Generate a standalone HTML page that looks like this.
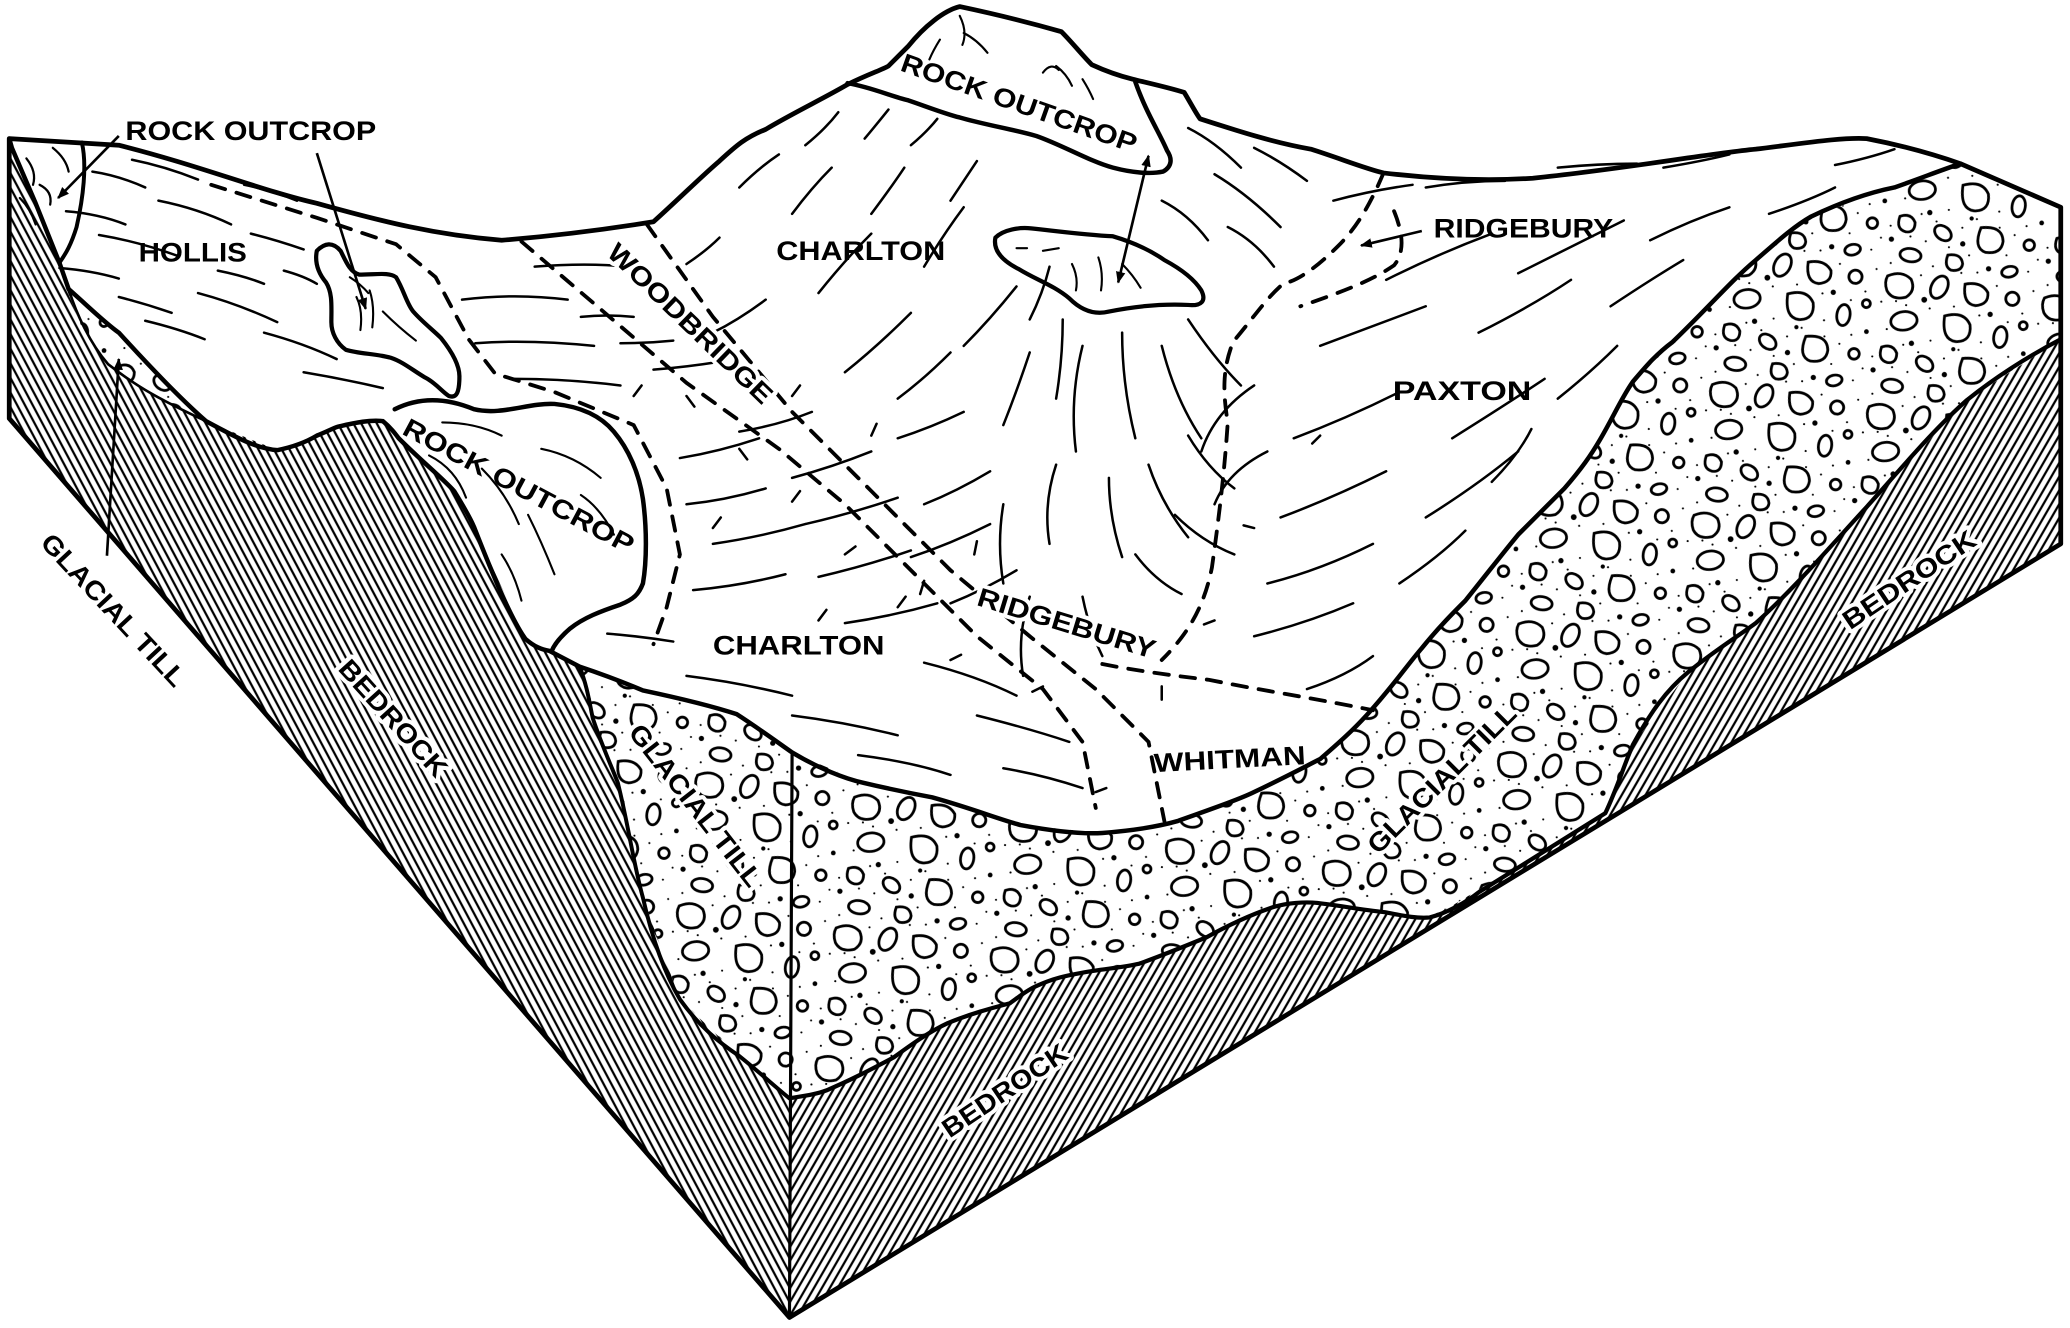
<!DOCTYPE html>
<html><head><meta charset="utf-8"><style>
html,body{margin:0;padding:0;background:#fff;}
svg{display:block;}
text{font-family:"Liberation Sans",sans-serif;font-weight:bold;fill:#000;}
.lb{paint-order:stroke;stroke:#fff;stroke-width:6px;stroke-linejoin:round;}
</style></head><body>
<svg width="2070" height="1328" viewBox="0 0 1568 1006" preserveAspectRatio="none" xmlns="http://www.w3.org/2000/svg">
<defs>
<pattern id="hL" patternUnits="userSpaceOnUse" width="5.2" height="10" patternTransform="rotate(-28)">
<line x1="2.6" y1="-1" x2="2.6" y2="11" stroke="#000" stroke-width="1.7"/></pattern>
<pattern id="hR" patternUnits="userSpaceOnUse" width="5.2" height="10" patternTransform="rotate(30)">
<line x1="2.6" y1="-1" x2="2.6" y2="11" stroke="#000" stroke-width="1.7"/></pattern>
<pattern id="till" patternUnits="userSpaceOnUse" width="120" height="100" patternTransform="rotate(8)">
<rect width="120" height="100" fill="#fff"/>
<g fill="#000">
<circle cx="3" cy="28" r=".8"/><circle cx="14" cy="26" r=".8"/><circle cx="30" cy="4" r=".8"/><circle cx="40" cy="28" r=".8"/><circle cx="58" cy="24" r=".8"/><circle cx="88" cy="4" r=".8"/><circle cx="110" cy="22" r=".8"/><circle cx="116" cy="4" r=".8"/><circle cx="78" cy="28" r=".8"/><circle cx="10" cy="48" r=".8"/><circle cx="44" cy="52" r=".8"/><circle cx="82" cy="48" r=".8"/><circle cx="104" cy="56" r=".8"/><circle cx="24" cy="58" r=".8"/><circle cx="36" cy="62" r=".8"/><circle cx="56" cy="64" r=".8"/><circle cx="96" cy="64" r=".8"/><circle cx="116" cy="80" r=".8"/><circle cx="92" cy="80" r=".8"/><circle cx="64" cy="84" r=".8"/><circle cx="30" cy="78" r=".8"/><circle cx="6" cy="98" r=".8"/><circle cx="38" cy="96" r=".8"/><circle cx="72" cy="96" r=".8"/><circle cx="110" cy="90" r=".8"/><circle cx="50" cy="4" r=".8"/><circle cx="22" cy="28" r=".8"/><circle cx="66" cy="56" r=".8"/><circle cx="2" cy="70" r=".8"/><circle cx="84" cy="60" r=".8"/><circle cx="48" cy="80" r=".8"/><circle cx="100" cy="30" r=".8"/><circle cx="18" cy="76" r=".8"/><circle cx="60" cy="98" r=".8"/>
<circle cx="35" cy="22" r="2.2"/><circle cx="86" cy="26" r="2"/><circle cx="30" cy="56" r="2"/><circle cx="115" cy="52" r="1.8"/><circle cx="58" cy="76" r="2"/><circle cx="80" cy="92" r="2"/><circle cx="4" cy="80" r="2"/><circle cx="62" cy="56" r="1.6"/>
</g>
<g fill="#fff" stroke="#000" stroke-width="2.1">
<path d="M5,8 q10,-6 18,0 q5,8 -2,14 q-10,4 -15,-3 q-3,-6 -1,-11z"/>
<ellipse cx="45" cy="11" rx="6" ry="9" transform="rotate(20 45 11)"/>
<path d="M64,6 q12,-4 18,4 q2,9 -8,11 q-10,0 -10,-15z"/>
<circle cx="101" cy="12" r="5"/>
<ellipse cx="22" cy="40" rx="10" ry="7" transform="rotate(-15 22 40)"/>
<path d="M52,32 q14,-6 20,4 q3,12 -8,14 q-12,1 -12,-18z"/>
<ellipse cx="96" cy="42" rx="5" ry="8"/>
<circle cx="112" cy="31" r="3"/>
<path d="M8,62 q8,-4 12,3 q1,8 -6,8 q-8,-1 -6,-11z"/>
<ellipse cx="42" cy="70" rx="7" ry="5" transform="rotate(30 42 70)"/>
<path d="M70,62 q16,-4 18,8 q0,10 -12,10 q-10,-2 -6,-18z"/>
<circle cx="108" cy="70" r="4"/>
<ellipse cx="20" cy="90" rx="8" ry="5"/>
<path d="M48,86 q10,-3 12,5 q0,6 -8,6 q-6,-2 -4,-11z"/>
<ellipse cx="96" cy="92" rx="6" ry="4" transform="rotate(-20 96 92)"/>
</g>
</pattern>
<marker id="ar" viewBox="0 0 10 10" refX="9" refY="5" markerWidth="9" markerHeight="9" orient="auto-start-reverse" markerUnits="userSpaceOnUse">
<path d="M0,1 L10,5 L0,9 z" fill="#000"/></marker>
</defs>

<path d="M7,105 L9,112 L27,154 L45,199 L52,219 L90,252 L156,319 L210,341 L240,330 L257,323 L290,319 L302,332 L344,372 L359,399 L398,484 L416,493 L439,505 L449,544 L468,593 L487,680 L515,757 L560,800 L598,832 L598,998 L7,317 Z" fill="url(#hL)"/>
<path d="M50,218 L90,252 L156,319 L120,302 L82,276 L62,248 Z" fill="url(#till)"/>
<path d="M416,493 L439,505 L487,523 L558,541 L600,570 L598,832 L560,800 L515,757 L487,680 L468,593 L449,544 L439,505 Z" fill="url(#till)"/>
<path d="M600,570 L654,593 L706,604 L773,625 L835,631 L892,622 L950,600 L1000,575 L1035,542 L1077,491 L1110,455 L1150,405 L1185,370 L1212,333 L1237,289 L1267,259 L1330,197 L1372,164 L1435,142 L1485,124 L1561,157 L1561,259 L1557,259 L1490,303 L1414,384 L1330,472 L1279,509 L1237,564 L1216,616 L1150,656 L1100,686 L1083,695 L1049,691 L998,684 L965,687 L914,710 L863,730 L819,737 L785,747 L765,760 L718,775 L677,801 L626,826 L598,832 Z" fill="url(#till)"/>
<path d="M598,832 L626,826 L677,801 L718,775 L765,760 L785,747 L819,737 L863,730 L914,710 L965,687 L998,684 L1049,691 L1083,695 L1100,686 L1150,656 L1216,616 L1237,564 L1279,509 L1330,472 L1414,384 L1490,303 L1561,257 L1561,412 L598,998 Z" fill="url(#hR)"/>

<g fill="none" stroke="#000" stroke-linejoin="round" stroke-linecap="round">
<path stroke-width="3.6" d="M7,105 L90,110 C150,125 200,145 240,154 C290,168 330,178 380,182 C430,178 470,172 495,168 C515,150 532,133 545,122 C558,110 565,104 580,98 C600,86 625,74 642,64 C658,56 668,53 673,50 L688,35 C700,20 715,8 727,5 C760,12 790,20 804,24 C812,32 820,42 827,49 C840,55 850,58 858,60 C875,64 888,67 897,70 C903,80 906,86 909,90 C940,100 965,108 993,113 C1015,120 1035,128 1048,131 C1090,136 1130,137 1161,135 C1230,128 1290,117 1330,113 C1370,108 1395,104 1414,105 C1440,110 1465,117 1485,124 L1561,157 L1561,412 L598,998 L7,317 Z"/>
<path stroke-width="2.4" d="M600,570 L598,998"/>
<path stroke-width="3.4" d="M7,105 L9,112 L27,154 L45,199 L52,219 C70,235 80,245 90,252 C120,285 140,305 156,319 C180,332 195,340 210,341 C225,338 235,333 240,330 C250,326 255,323 257,323 C270,320 280,318 290,319 C296,324 299,328 302,332 C320,350 335,362 344,372 C352,385 356,392 359,399 C375,440 388,470 398,484 C405,490 410,492 416,493 L439,505 C460,512 475,518 487,523 C520,530 540,535 558,541 C575,552 590,563 600,570 C620,582 640,590 654,593 C675,598 690,601 706,604 C735,612 755,620 773,625 C800,630 820,632 835,631 C860,629 878,626 892,622 C920,612 940,605 950,600 C975,588 990,580 1000,575 C1015,562 1025,553 1035,542 C1055,520 1065,505 1077,491 C1090,475 1100,465 1110,455 C1130,430 1140,417 1150,405 C1165,390 1175,380 1185,370 C1198,355 1205,345 1212,333 C1222,316 1229,300 1237,289 C1248,276 1255,268 1267,259 C1295,232 1312,212 1330,197 C1345,184 1358,172 1372,164 C1395,153 1415,146 1435,142 C1455,135 1470,129 1485,124"/>
<path stroke-width="3" d="M439,505 C445,520 447,535 449,544 C456,565 463,580 468,593 C476,625 480,655 487,680 C495,715 505,740 515,757 C530,778 545,790 560,800 C575,812 588,824 598,832"/>
<path stroke-width="3.2" d="M598,832 C610,830 618,829 626,826 C645,818 660,810 677,801 C692,790 705,781 718,775 C735,768 750,764 765,760 C772,755 778,750 785,747 C798,741 808,739 819,737 C835,734 850,733 863,730 C880,724 897,717 914,710 C932,700 950,692 965,687 C975,684 988,683 998,684 C1015,686 1030,689 1049,691 C1060,693 1072,696 1083,695 C1095,692 1110,684 1120,676 L1216,616 C1225,597 1230,580 1237,564 C1250,540 1262,523 1279,509 C1300,492 1315,483 1330,472 C1360,445 1390,410 1414,384 C1440,355 1465,325 1490,303 C1515,283 1540,268 1561,257"/>
<path stroke-width="2" d="M52,219 C58,238 68,260 82,276 C100,290 115,300 156,319"/>
<path stroke-width="3" d="M62,108 C66,125 63,150 58,172 C54,185 50,192 45,199"/>
<path stroke-width="1.7" d="M20,120 q8,10 5,20 M30,140 q10,5 8,15 M15,150 q8,8 12,20 M40,112 q10,8 12,18"/>
<path stroke-width="3.2" d="M240,190 C246,184 252,183 258,190 C262,198 265,206 272,208 C285,208 295,206 300,210 C306,220 308,230 313,236 C320,244 328,250 334,256 C342,266 348,276 348,285 C348,297 346,302 340,300 C334,296 330,290 322,286 C312,280 305,274 296,271 C285,268 272,268 262,265 C255,260 251,252 251,244 C251,232 252,222 247,214 C242,208 238,200 240,190 Z"/>
<path stroke-width="1.6" d="M270,225 q5,10 3,25 M280,220 q4,12 2,28 M290,236 q12,12 25,22 M265,210 q8,5 14,12"/>
<path stroke-width="3.4" d="M299,310 C315,302 335,300 359,310 C380,315 400,305 420,306 C440,308 455,315 465,327 C476,340 484,358 487,378 C490,400 490,425 487,442 C484,450 480,454 470,458 C455,463 442,468 432,476 C425,482 420,488 418,493"/>
<path stroke-width="1.6" d="M325,345 q20,10 28,32 M365,355 q18,18 28,42 M400,390 q10,20 20,45 M410,340 q25,5 45,22 M440,375 q15,10 25,30 M335,320 q25,0 45,10 M380,420 q10,15 15,35"/>
<path stroke-width="3.4" d="M642,63 C660,66 675,73 688,76 C700,80 715,86 727,89 C748,95 768,98 785,103 C805,110 825,122 843,127 C858,131 872,132 881,130 C888,126 888,120 884,114 C878,100 868,85 860,62"/>
<path stroke-width="1.6" d="M727,12 q6,12 2,22 M730,25 q10,5 18,15 M712,30 q-5,8 -8,15 M790,55 q6,-8 12,-2 M800,50 q8,6 12,15 M820,60 q5,8 8,15"/>
<path stroke-width="3.2" d="M754,180 C760,174 772,172 781,173 C800,175 822,178 843,179 C860,184 872,190 882,197 C895,204 905,212 910,220 C914,228 910,232 900,231 C880,230 860,232 840,236 C828,239 818,234 810,226 C798,216 785,212 772,204 C760,198 752,190 754,180 Z"/>
<path stroke-width="1.6" d="M770,188 l8,0 M790,190 l12,-2 M812,200 q5,10 3,20 M832,195 q4,12 2,25 M850,200 q8,8 14,18"/>
</g>

<g fill="none" stroke="#000" stroke-width="1.9" stroke-linecap="round">
<path d="M70,130 q20,3 40,12 M100,121 q25,5 50,15 M120,152 q30,6 55,18 M50,160 q25,2 45,10 M75,178 q30,5 60,16 M190,177 q20,5 40,12 M45,203 q25,2 45,8 M150,222 q30,8 60,22 M200,252 q30,8 55,20 M110,243 q25,6 45,14 M230,282 q30,5 60,12 M165,205 q20,4 35,10 M185,140 q20,4 40,12 M215,205 q15,4 25,10 M90,225 q20,5 40,12"/>
<path d="M350,227 q40,-5 80,0 M360,260 q40,-3 90,2 M390,287 q40,0 80,5 M405,202 q40,-3 70,0 M440,240 q20,-2 40,0"/>
<path d="M515,347 q30,-5 60,-15 M520,382 q30,-3 60,-12 M540,412 q35,-5 70,-15 M525,447 q35,-3 70,-12 M600,362 q30,-8 60,-20 M610,397 q35,-8 70,-20 M620,437 q35,-8 70,-20 M640,472 q35,-5 70,-15 M560,327 q30,-5 55,-15 M680,332 q25,-8 50,-20 M700,382 q25,-10 50,-25 M690,422 q30,-10 60,-25 M720,457 q25,-10 50,-25 M495,280 q25,-2 50,-6 M470,260 q20,0 40,-2"/>
<path d="M600,162 q15,-20 30,-35 M620,222 q20,-25 40,-45 M660,162 q15,-20 25,-35 M700,202 q15,-25 30,-45 M720,152 q10,-15 20,-30 M730,262 q20,-20 40,-45 M640,282 q25,-20 50,-45 M680,302 q20,-15 40,-35 M560,142 q15,-15 30,-25 M540,252 q20,-10 40,-25 M760,322 q10,-25 20,-55 M780,242 q10,-20 15,-40 M800,302 q5,-30 5,-60 M610,110 q15,-12 25,-25 M655,105 q10,-12 18,-22 M690,110 q12,-10 20,-20 M520,200 q15,-10 25,-20"/>
<path d="M820,262 q-10,40 -5,80 M850,252 q0,40 10,80 M880,262 q10,40 30,70 M900,242 q20,30 40,50 M800,352 q-10,30 -5,60 M840,362 q0,30 10,60 M870,352 q10,30 30,55 M760,382 q-5,30 0,60 M780,452 q-10,30 -5,60 M820,452 q5,25 15,45 M950,292 q-30,20 -40,50 M960,342 q-30,15 -40,40 M900,330 q15,25 35,40 M890,390 q20,20 45,30 M860,420 q15,20 35,30"/>
<path d="M900,97 q20,10 40,30 M920,132 q25,15 50,40 M950,112 q20,10 40,25 M880,152 q20,10 35,30 M930,172 q20,10 35,30"/>
<path d="M1010,152 q30,-8 60,-12 M1080,142 q30,-5 60,-5 M1180,127 q30,-3 60,-3 M1260,127 q30,-5 50,-10 M1050,212 q40,-20 80,-35 M1150,207 q40,-20 80,-40 M1250,182 q30,-15 60,-25 M1340,162 q30,-10 50,-20 M1000,262 q40,-15 80,-30 M1120,252 q40,-20 70,-40 M1220,232 q30,-20 55,-35 M980,332 q40,-15 80,-35 M1100,332 q40,-25 70,-45 M1180,302 q25,-20 45,-40 M970,392 q40,-15 80,-35 M1080,392 q40,-25 70,-50 M960,442 q40,-10 80,-30 M1060,442 q30,-20 50,-40 M950,482 q40,-10 75,-25 M990,522 q30,-10 50,-25 M1130,365 q20,-20 30,-40 M1390,125 q25,-5 45,-12"/>
<path d="M520,512 q40,5 80,15 M600,542 q40,5 80,15 M650,572 q40,5 70,15 M700,502 q40,10 70,25 M740,542 q40,10 70,20 M760,582 q30,5 60,15 M460,480 q25,2 50,6"/>
<path d="M520,300 l6,8 M560,340 l6,8 M600,380 l6,-8 M640,420 l8,-6 M680,460 l6,-8 M720,500 l8,-4 M600,300 l6,-8 M660,330 l4,-9 M700,440 l-3,10 M740,410 l-2,10 M790,520 l-8,4 M830,600 l8,-3 M880,520 l0,10 M920,470 l-8,3 M950,400 l-8,-2 M1000,330 l-6,6 M480,300 l6,-8 M540,400 l6,-8 M620,470 l6,-8"/>
</g>

<g fill="none" stroke="#000" stroke-width="2.9" stroke-dasharray="11 9" stroke-linecap="round">
<path d="M160,140 L240,165 L300,185 L330,210 L355,257 L375,283 L420,297 L480,322 L505,370 L515,420 L505,460 L495,488"/>
<path d="M395,183 L450,230 L520,290 L590,340 L640,382 L690,432 L740,482 L790,522 L820,562 L830,612"/>
<path d="M490,170 L540,240 L600,312 L660,372 L720,432 L780,482 L830,522 L870,562 L882,622"/>
<path d="M1048,131 C1040,150 1030,170 1014,186 C1000,200 985,212 972,215 C960,225 950,240 934,259 C928,275 925,290 930,320 C928,350 925,380 918,430 C912,460 900,480 880,500"/>
<path d="M1056,160 C1062,175 1065,190 1056,201 C1040,212 1020,220 985,232"/>
<path d="M835,503 C860,508 890,512 916,515 C950,522 990,528 1040,538"/>
</g>

<g stroke="#000" stroke-width="2" fill="none">
<line x1="90" y1="103" x2="44" y2="150" marker-end="url(#ar)"/>
<line x1="240" y1="116" x2="277" y2="234" marker-end="url(#ar)"/>
<line x1="81" y1="421" x2="90" y2="272" marker-end="url(#ar)"/>
<line x1="870" y1="118" x2="847" y2="214" marker-start="url(#ar)" marker-end="url(#ar)"/>
<line x1="1077" y1="175" x2="1031" y2="186" marker-end="url(#ar)"/>
</g>

<g font-size="20">
<text x="95" y="106" textLength="190" lengthAdjust="spacingAndGlyphs">ROCK OUTCROP</text>
<text x="105" y="198" textLength="82" lengthAdjust="spacingAndGlyphs">HOLLIS</text>
<text x="588" y="197" textLength="128" lengthAdjust="spacingAndGlyphs">CHARLTON</text>
<text x="1086" y="180" textLength="136" lengthAdjust="spacingAndGlyphs">RIDGEBURY</text>
<text x="1055" y="303" textLength="105" lengthAdjust="spacingAndGlyphs">PAXTON</text>
<text x="540" y="496" textLength="130" lengthAdjust="spacingAndGlyphs">CHARLTON</text>
<text x="874" y="582" textLength="115" lengthAdjust="spacingAndGlyphs" transform="rotate(-3 930 575)">WHITMAN</text>
<text x="0" y="7" text-anchor="middle" textLength="188" lengthAdjust="spacingAndGlyphs" transform="translate(772,78) rotate(19.5)">ROCK OUTCROP</text>
<text class="lb" x="0" y="7" text-anchor="middle" textLength="165" lengthAdjust="spacingAndGlyphs" transform="translate(523,245) rotate(44)">WOODBRIDGE</text>
<text x="0" y="7" text-anchor="middle" textLength="195" lengthAdjust="spacingAndGlyphs" transform="translate(393,368) rotate(28)">ROCK OUTCROP</text>
<text class="lb" x="0" y="7" text-anchor="middle" textLength="140" lengthAdjust="spacingAndGlyphs" transform="translate(808,472) rotate(17)">RIDGEBURY</text>
<text x="0" y="7" text-anchor="middle" textLength="150" lengthAdjust="spacingAndGlyphs" transform="translate(86,462) rotate(47)">GLACIAL TILL</text>
<text class="lb" x="0" y="7" text-anchor="middle" textLength="112" lengthAdjust="spacingAndGlyphs" transform="translate(298,544) rotate(48)">BEDROCK</text>
<text class="lb" x="0" y="7" text-anchor="middle" textLength="150" lengthAdjust="spacingAndGlyphs" transform="translate(527,610) rotate(52)">GLACIAL TILL</text>
<text class="lb" x="0" y="7" text-anchor="middle" textLength="150" lengthAdjust="spacingAndGlyphs" transform="translate(1092,590) rotate(-45)">GLACIAL TILL</text>
<text class="lb" x="0" y="7" text-anchor="middle" textLength="110" lengthAdjust="spacingAndGlyphs" transform="translate(761,826) rotate(-34)">BEDROCK</text>
<text class="lb" x="0" y="7" text-anchor="middle" textLength="117" lengthAdjust="spacingAndGlyphs" transform="translate(1446,439) rotate(-34)">BEDROCK</text>
</g>
</svg>
</body></html>
